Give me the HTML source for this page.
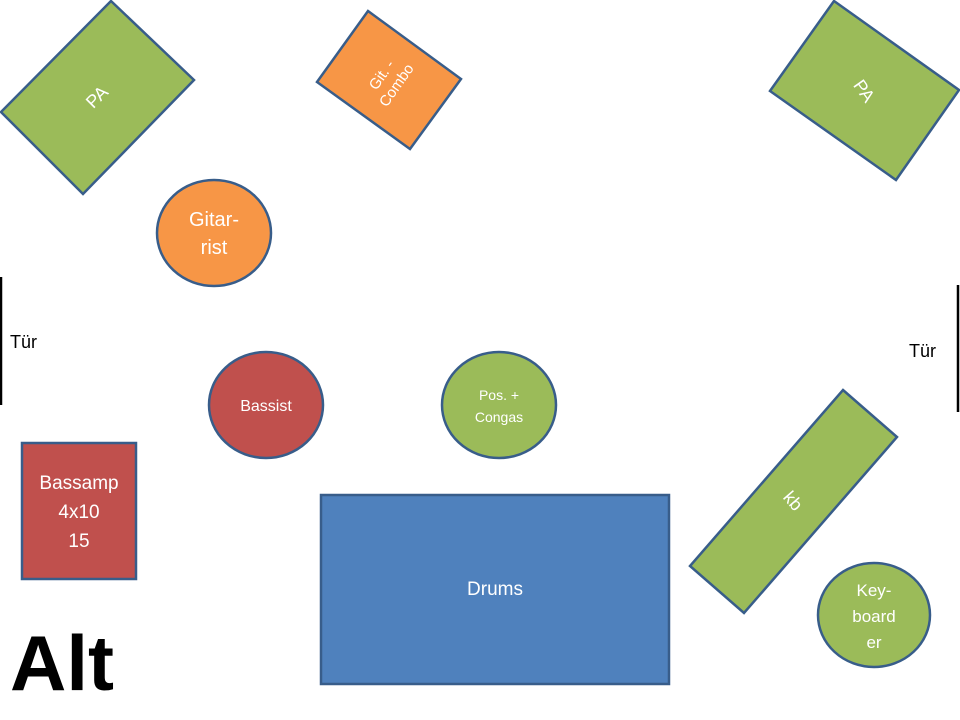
<!DOCTYPE html>
<html><head><meta charset="utf-8"><style>
html,body{margin:0;padding:0;background:#fff;}
svg{display:block;}
text{font-family:"Liberation Sans",sans-serif;}
</style></head><body>
<svg width="960" height="720" viewBox="0 0 960 720" xmlns="http://www.w3.org/2000/svg">
<g stroke="#385D8A" stroke-width="2.5" stroke-linejoin="miter">
<polygon points="111,1 194,80 83,194 1,112" fill="#9BBB59"/>
<polygon points="368,11 461,79 410,149 317,82" fill="#F79646"/>
<polygon points="834,1 959,90 896,180 770,91" fill="#9BBB59"/>
<polygon points="843,390 897,437 744,613 690,566" fill="#9BBB59"/>
<ellipse cx="214" cy="233" rx="57" ry="53" fill="#F79646"/>
<ellipse cx="266" cy="405" rx="57" ry="53" fill="#C0504D"/>
<ellipse cx="499" cy="405" rx="57" ry="53" fill="#9BBB59"/>
<ellipse cx="874" cy="615" rx="56" ry="52" fill="#9BBB59"/>
<rect x="22" y="443" width="114" height="136" fill="#C0504D"/>
<rect x="321" y="495" width="348" height="189" fill="#4F81BD"/>
</g>
<line x1="1" y1="277" x2="1" y2="405" stroke="#000" stroke-width="2.5"/>
<line x1="958" y1="285" x2="958" y2="412" stroke="#000" stroke-width="2.5"/>
<g fill="#fff" text-anchor="middle">
<text x="97" y="103" font-size="18" transform="rotate(-45 97 97)">PA</text>
<text x="864" y="97" font-size="18" transform="rotate(55 864 91)">PA</text>
<g transform="rotate(-55 389 80)" font-size="15">
<text x="389" y="76">Git. -</text>
<text x="389" y="94">Combo</text>
</g>
<text x="793" y="507" font-size="18" transform="rotate(49 793 501)">kb</text>
<text x="214" y="226" font-size="20">Gitar-</text>
<text x="214" y="254" font-size="20">rist</text>
<text x="266" y="411" font-size="16">Bassist</text>
<text x="499" y="400" font-size="14">Pos. +</text>
<text x="499" y="422" font-size="14">Congas</text>
<text x="874" y="596" font-size="17">Key-</text>
<text x="874" y="622" font-size="17">board</text>
<text x="874" y="648" font-size="17">er</text>
<text x="79" y="489" font-size="19">Bassamp</text>
<text x="79" y="518" font-size="19">4x10</text>
<text x="79" y="547" font-size="19">15</text>
<text x="495" y="595" font-size="19">Drums</text>
</g>
<text x="10" y="348" font-size="18" fill="#000">Tür</text>
<text x="909" y="357" font-size="18" fill="#000">Tür</text>
<text x="10" y="690" font-size="78" font-weight="bold" fill="#000">Alt</text>
</svg>
</body></html>
